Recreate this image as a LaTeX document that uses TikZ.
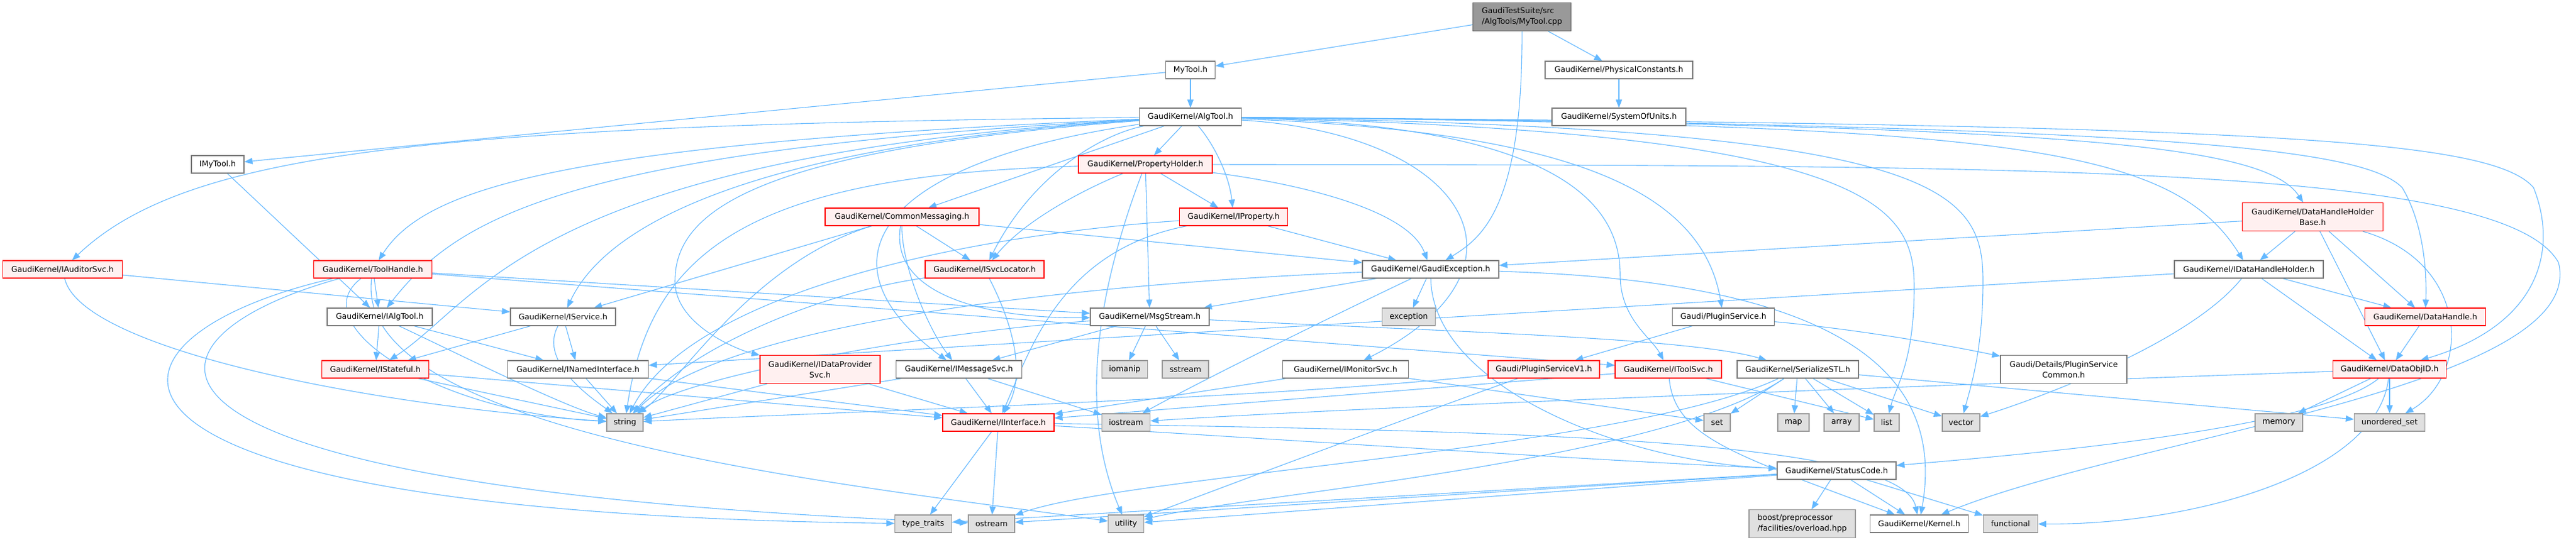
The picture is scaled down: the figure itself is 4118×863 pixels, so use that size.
\documentclass[tikz,border=0pt]{standalone}
\usepackage{fontspec}
\setmainfont{DejaVu Sans}
\usetikzlibrary{arrows.meta}
\pgfdeclarelayer{bg}
\pgfsetlayers{bg,main}
\definecolor{edgec}{HTML}{63B8FF}
\definecolor{wline}{HTML}{7A7A7A}
\definecolor{rfill}{HTML}{FFF0F0}
\definecolor{rline}{HTML}{FF0000}
\definecolor{gfill}{HTML}{E0E0E0}
\definecolor{gline}{HTML}{999999}
\definecolor{tfill}{HTML}{999999}
\definecolor{tline}{HTML}{666666}
\newcommand{\nfont}{\fontsize{12.5}{17}\selectfont}
\tikzset{
  nbase/.style={rectangle, line width=1.2pt, minimum height=28pt, inner xsep=4pt, inner ysep=2pt, font=\nfont, text=black, align=center},
  wbox/.style={nbase, draw=wline, fill=white},
  rbox/.style={nbase, draw=rline, fill=rfill},
  gbox/.style={nbase, draw=gline, fill=gfill},
  tbox/.style={nbase, draw=tline, fill=tfill},
  tall/.style={minimum height=45pt},
  edgeline/.style={draw=edgec, line width=1.1pt, -{Triangle[length=13pt,width=10pt]}},
}
\begin{document}
\begin{tikzpicture}[x=1pt,y=-1pt]
\useasboundingbox (0,0) rectangle (4118,863);
% row 0
\node[tbox,tall,align=left,minimum width=157] (cpp) at (2433,27) {GaudiTestSuite/src\\/AlgTools/MyTool.cpp};
% row 1
\node[wbox,minimum width=79] (mytool) at (1903,112) {MyTool.h};
\node[wbox,minimum width=236] (phys) at (2588,112) {GaudiKernel/PhysicalConstants.h};
% row 2
\node[wbox,minimum width=163] (algtool) at (1903,187) {GaudiKernel/AlgTool.h};
\node[wbox,minimum width=214] (units) at (2588,187) {GaudiKernel/SystemOfUnits.h};
% row 3
\node[wbox,minimum width=84] (imytool) at (348,263) {IMyTool.h};
\node[rbox,minimum width=214] (propholder) at (1831,263) {GaudiKernel/PropertyHolder.h};
% row 4
\node[rbox,minimum width=246] (commsg) at (1442,347) {GaudiKernel/CommonMessaging.h};
\node[rbox,minimum width=173] (iprop) at (1972,347) {GaudiKernel/IProperty.h};
\node[rbox,tall,minimum width=225] (dhhb) at (3697,347) {GaudiKernel/DataHandleHolder\\Base.h};
% row 5
\node[rbox,minimum width=191] (auditor) at (100,431) {GaudiKernel/IAuditorSvc.h};
\node[rbox,minimum width=189] (toolhandle) at (596,431) {GaudiKernel/ToolHandle.h};
\node[rbox,minimum width=190] (isvcloc) at (1574,431) {GaudiKernel/ISvcLocator.h};
\node[wbox,minimum width=218] (gexc) at (2287,431) {GaudiKernel/GaudiException.h};
\node[wbox,minimum width=238] (idhh) at (3595,431) {GaudiKernel/IDataHandleHolder.h};
% row 6
\node[wbox,minimum width=168] (ialgtool) at (607,507) {GaudiKernel/IAlgTool.h};
\node[wbox,minimum width=168] (iservice) at (900,507) {GaudiKernel/IService.h};
\node[wbox,minimum width=190] (msgstream) at (1838,507) {GaudiKernel/MsgStream.h};
\node[gbox,minimum width=85] (exception) at (2252,507) {exception};
\node[wbox,minimum width=163] (pluginsvc) at (2755,507) {Gaudi/PluginService.h};
\node[rbox,minimum width=193] (dh) at (3877,507) {GaudiKernel/DataHandle.h};
% row 7
\node[rbox,minimum width=171] (istateful) at (600,591) {GaudiKernel/IStateful.h};
\node[wbox,minimum width=225] (inamed) at (924,591) {GaudiKernel/INamedInterface.h};
\node[rbox,tall,minimum width=192] (idps) at (1311,591) {GaudiKernel/IDataProvider\\Svc.h};
\node[wbox,minimum width=201] (imsgsvc) at (1533,591) {GaudiKernel/IMessageSvc.h};
\node[gbox,minimum width=73] (iomanip) at (1798,591) {iomanip};
\node[gbox,minimum width=74] (sstream) at (1895,591) {sstream};
\node[wbox,minimum width=201] (imonsvc) at (2151,591) {GaudiKernel/IMonitorSvc.h};
\node[rbox,minimum width=178] (pluginv1) at (2468,591) {Gaudi/PluginServiceV1.h};
\node[rbox,minimum width=170] (itoolsvc) at (2667,591) {GaudiKernel/IToolSvc.h};
\node[wbox,minimum width=194] (serstl) at (2874,591) {GaudiKernel/SerializeSTL.h};
\node[wbox,tall,minimum width=202] (pscommon) at (3299,591) {Gaudi/Details/PluginService\\Common.h};
\node[rbox,minimum width=181] (dataobjid) at (3820,591) {GaudiKernel/DataObjID.h};
% row 8
\node[gbox,minimum width=58] (nstring) at (999,676) {string};
\node[rbox,minimum width=178] (iinterface) at (1596,676) {GaudiKernel/IInterface.h};
\node[gbox,minimum width=77] (iostream) at (1800,676) {iostream};
\node[gbox,minimum width=42] (nset) at (2745,676) {set};
\node[gbox,minimum width=50] (nmap) at (2867,676) {map};
\node[gbox,minimum width=56] (narray) at (2944,676) {array};
\node[gbox,minimum width=40] (nlist) at (3016,676) {list};
\node[gbox,minimum width=60] (nvector) at (3135,676) {vector};
\node[gbox,minimum width=76] (nmemory) at (3643,676) {memory};
\node[gbox,minimum width=113] (uset) at (3820,676) {unordered\_set};
% row 9
\node[wbox,minimum width=190] (statuscode) at (2936,753) {GaudiKernel/StatusCode.h};
% row 10
\node[gbox,minimum width=91] (typetraits) at (1476,838) {type\_traits};
\node[gbox,minimum width=74] (ostream) at (1585,838) {ostream};
\node[gbox,minimum width=57] (utility) at (1800,838) {utility};
\node[gbox,tall,align=left,minimum width=170] (boost) at (2881,838) {boost/preprocessor\\/facilities/overload.hpp};
\node[wbox,minimum width=157] (kernel) at (3068,838) {GaudiKernel/Kernel.h};
\node[gbox,minimum width=87] (functional) at (3214,838) {functional};

\begin{pgfonlayer}{bg}
\fill[white] (0,0) rectangle (4118,863);
% top file
\draw[edgeline] (cpp) -- (mytool);
\draw[edgeline] (cpp) -- (phys);
\draw[edgeline] (cpp) .. controls (2434,330) and (2370,380) .. (gexc);
\draw[edgeline] (mytool) -- (algtool);
\draw[edgeline] (mytool) -- (imytool);
\draw[edgeline] (phys) -- (units);
\draw[edgeline] (imytool) -- (ialgtool);
% AlgTool.h
\draw[edgeline] (algtool) .. controls (700,200) and (300,240) .. (auditor);
\draw[edgeline] (algtool) .. controls (900,230) and (680,300) .. (toolhandle);
\draw[edgeline] (algtool) .. controls (900,240) and (730,350) .. (ialgtool);
\draw[edgeline] (algtool) .. controls (850,250) and (770,480) .. (istateful);
\draw[edgeline] (algtool) .. controls (1100,240) and (950,400) .. (iservice);
\draw[edgeline] (algtool) .. controls (1200,240) and (1079,340) .. (1079,450) .. controls (1079,520) and (1180,560) .. (idps);
\draw[edgeline] (algtool) .. controls (1400,260) and (1300,420) .. (imsgsvc);
\draw[edgeline] (algtool) -- (commsg);
\draw[edgeline] (algtool) -- (propholder);
\draw[edgeline] (algtool) .. controls (1940,230) and (1965,280) .. (iprop);
\draw[edgeline] (algtool) .. controls (1760,215) and (1650,280) .. (isvcloc);
\draw[edgeline] (algtool) .. controls (2500,210) and (2720,300) .. (pluginsvc);
\draw[edgeline] (algtool) .. controls (2500,200) and (2590,330) .. (2590,440) .. controls (2590,510) and (2640,540) .. (itoolsvc);
\draw[edgeline] (algtool) .. controls (2350,215) and (2470,430) .. (imonsvc);
\draw[edgeline] (algtool) .. controls (3300,200) and (3620,230) .. (dhhb);
\draw[edgeline] (algtool) .. controls (3200,200) and (3470,230) .. (idhh);
\draw[edgeline] (algtool) .. controls (3500,200) and (3780,240) .. (3840,300) .. controls (3870,350) and (3880,420) .. (dh);
\draw[edgeline] (algtool) .. controls (3600,200) and (3980,220) .. (4050,300) .. controls (4090,400) and (4060,520) .. (dataobjid);
\draw[edgeline] (algtool) .. controls (3100,205) and (3170,300) .. (3170,450) .. controls (3170,560) and (3150,620) .. (nvector);
\draw[edgeline] (algtool) .. controls (3000,210) and (3060,330) .. (3060,460) .. controls (3060,580) and (3030,620) .. (nlist);
% PropertyHolder.h
\draw[edgeline] (propholder) -- (iprop);
\draw[edgeline] (propholder) .. controls (1740,300) and (1640,350) .. (isvcloc);
\draw[edgeline] (propholder) -- (msgstream);
\draw[edgeline] (propholder) .. controls (2050,290) and (2250,330) .. (gexc);
\draw[edgeline] (propholder) .. controls (1760,450) and (1720,650) .. (utility);
\draw[edgeline] (propholder) .. controls (1200,280) and (1040,400) .. (nstring);
\draw[edgeline] (propholder) .. controls (3200,265) and (4000,260) .. (4090,420) .. controls (4140,620) and (3400,700) .. (kernel);
% IProperty.h
\draw[edgeline] (iprop) -- (gexc);
\draw[edgeline] (iprop) .. controls (1700,400) and (1650,550) .. (iinterface);
\draw[edgeline] (iprop) .. controls (1500,380) and (1100,480) .. (nstring);
% CommonMessaging.h
\draw[edgeline] (commsg) -- (isvcloc);
\draw[edgeline] (commsg) -- (iservice);
\draw[edgeline] (commsg) .. controls (1441,420) and (1480,520) .. (imsgsvc);
\draw[edgeline] (commsg) .. controls (1420,480) and (1600,510) .. (msgstream);
\draw[edgeline] (commsg) -- (gexc);
\draw[edgeline] (commsg) .. controls (1200,420) and (1080,620) .. (nstring);
% ISvcLocator.h
\draw[edgeline] (isvcloc) .. controls (1620,520) and (1640,600) .. (iinterface);
\draw[edgeline] (isvcloc) .. controls (1300,470) and (1100,560) .. (nstring);
% GaudiException.h
\draw[edgeline] (gexc) -- (msgstream);
\draw[edgeline] (gexc) -- (exception);
\draw[edgeline] (gexc) .. controls (1700,455) and (1150,520) .. (nstring);
\draw[edgeline] (gexc) .. controls (2100,520) and (1900,620) .. (iostream);
\draw[edgeline] (gexc) .. controls (2950,450) and (3110,600) .. (kernel);
\draw[edgeline] (gexc) .. controls (2290,620) and (2600,740) .. (statuscode);
% IAuditorSvc.h
\draw[edgeline] (auditor) -- (iservice);
\draw[edgeline] (auditor) .. controls (130,560) and (600,650) .. (nstring);
% ToolHandle.h
\draw[edgeline] (toolhandle) -- (ialgtool);
\draw[edgeline] (toolhandle) -- (itoolsvc);
\draw[edgeline] (toolhandle) -- (msgstream);
\draw[edgeline] (toolhandle) .. controls (480,520) and (700,660) .. (nstring);
\draw[edgeline] (toolhandle) .. controls (120,540) and (40,820) .. (typetraits);
\draw[edgeline] (toolhandle) .. controls (200,540) and (100,780) .. (ostream);
\draw[edgeline] (toolhandle) .. controls (560,700) and (1400,780) .. (utility);
% IAlgTool.h / IService.h
\draw[edgeline] (ialgtool) -- (istateful);
\draw[edgeline] (ialgtool) -- (inamed);
\draw[edgeline] (ialgtool) .. controls (720,560) and (900,650) .. (nstring);
\draw[edgeline] (iservice) -- (istateful);
\draw[edgeline] (iservice) -- (inamed);
\draw[edgeline] (iservice) .. controls (860,580) and (950,640) .. (nstring);
% interfaces
\draw[edgeline] (istateful) -- (iinterface);
\draw[edgeline] (istateful) -- (nstring);
\draw[edgeline] (inamed) -- (iinterface);
\draw[edgeline] (inamed) -- (nstring);
\draw[edgeline] (idps) -- (iinterface);
\draw[edgeline] (idps) -- (nstring);
\draw[edgeline] (imsgsvc) -- (iinterface);
\draw[edgeline] (imsgsvc) -- (nstring);
\draw[edgeline] (imsgsvc) -- (iostream);
% MsgStream.h
\draw[edgeline] (msgstream) -- (imsgsvc);
\draw[edgeline] (msgstream) -- (iomanip);
\draw[edgeline] (msgstream) -- (sstream);
\draw[edgeline] (msgstream) .. controls (1500,530) and (1100,600) .. (nstring);
\draw[edgeline] (msgstream) .. controls (2300,530) and (2700,540) .. (serstl);
% IInterface.h
\draw[edgeline] (iinterface) -- (typetraits);
\draw[edgeline] (iinterface) -- (ostream);
\draw[edgeline] (iinterface) .. controls (2000,700) and (2600,740) .. (statuscode);
\draw[edgeline] (iinterface) .. controls (2400,690) and (3040,700) .. (kernel);
% IMonitorSvc.h
\draw[edgeline] (imonsvc) -- (iinterface);
\draw[edgeline] (imonsvc) -- (nset);
% PluginService
\draw[edgeline] (pluginsvc) -- (pluginv1);
\draw[edgeline] (pluginsvc) .. controls (3000,530) and (3150,560) .. (pscommon);
\draw[edgeline] (pluginv1) .. controls (2000,640) and (1300,660) .. (nstring);
\draw[edgeline] (pluginv1) .. controls (2300,650) and (1900,800) .. (utility);
% IToolSvc.h
\draw[edgeline] (itoolsvc) -- (iinterface);
\draw[edgeline] (itoolsvc) -- (nlist);
\draw[edgeline] (itoolsvc) .. controls (2677,700) and (2775,728) .. (kernel);
% SerializeSTL.h
\draw[edgeline] (serstl) -- (nset);
\draw[edgeline] (serstl) -- (nmap);
\draw[edgeline] (serstl) -- (narray);
\draw[edgeline] (serstl) -- (nlist);
\draw[edgeline] (serstl) -- (nvector);
\draw[edgeline] (serstl) -- (uset);
\draw[edgeline] (serstl) .. controls (2600,720) and (1800,760) .. (ostream);
\draw[edgeline] (serstl) .. controls (2650,740) and (2000,790) .. (utility);
% DataObjID.h
\draw[edgeline] (dataobjid) -- (nmemory);
\draw[edgeline] (dataobjid) -- (uset);
\draw[edgeline] (dataobjid) .. controls (3700,690) and (3200,730) .. (statuscode);
\draw[edgeline] (dataobjid) .. controls (3800,760) and (3500,840) .. (functional);
\draw[edgeline] (dataobjid) .. controls (3000,620) and (2200,650) .. (iostream);
% DataHandle / holders
\draw[edgeline] (dh) -- (dataobjid);
\draw[edgeline] (idhh) -- (dh);
\draw[edgeline] (idhh) -- (dataobjid);
\draw[edgeline] (idhh) -- (inamed);
\draw[edgeline] (idhh) .. controls (3500,550) and (3250,640) .. (nvector);
\draw[edgeline] (dhhb) -- (idhh);
\draw[edgeline] (dhhb) -- (dh);
\draw[edgeline] (dhhb) -- (dataobjid);
\draw[edgeline] (dhhb) -- (gexc);
\draw[edgeline] (dhhb) .. controls (3950,420) and (3950,600) .. (uset);
% StatusCode.h
\draw[edgeline] (statuscode) -- (boost);
\draw[edgeline] (statuscode) -- (kernel);
\draw[edgeline] (statuscode) -- (functional);
\draw[edgeline] (statuscode) -- (ostream);
\draw[edgeline] (statuscode) -- (typetraits);
\draw[edgeline] (statuscode) -- (utility);
\end{pgfonlayer}
\end{tikzpicture}
\end{document}
